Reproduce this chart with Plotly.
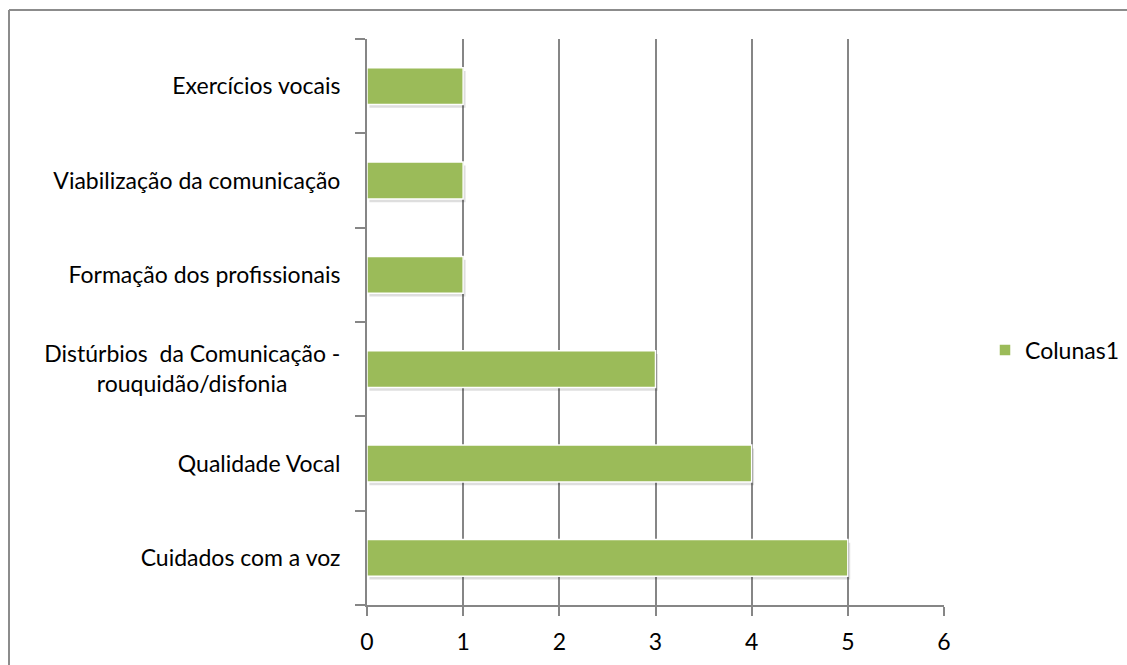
import plotly.graph_objects as go

categories = [
    "Cuidados com a voz",
    "Qualidade Vocal",
    "Distúrbios\u00a0 da Comunicação -<br>rouquidão/disfonia" + "\u00a0" * 9,
    "Formação dos profissionais",
    "Viabilização da comunicação",
    "Exercícios vocais",
]
values = [5, 4, 3, 1, 1, 1]
series_name = "Colunas1"
x_ticks = [0, 1, 2, 3, 4, 5, 6]

GREEN = "#9BBB59"
GRID = "#868686"
FONT = "Lato"

W, H = 1127, 665
L, R, T, B = 367, 1127 - 944, 39, 665 - 605
pw, ph = W - L - R, H - T - B

def px_x(p):
    return (p - L) / pw

def px_y(p):
    return (H - B - p) / ph

ypos = list(range(len(categories)))
fig = go.Figure()
# soft drop shadow
fig.add_trace(go.Bar(
    y=ypos, x=values, orientation="h", base=0.025,
    marker=dict(color="rgba(0,0,0,0.13)", line=dict(width=0)),
    width=0.39, offset=-0.195 - 0.035, showlegend=False, hoverinfo="skip",
))
fig.add_trace(go.Bar(
    y=ypos, x=values, orientation="h",
    name=series_name,
    marker=dict(color=GREEN, line=dict(color="white", width=1.5)),
    width=0.39, offset=-0.195,
    showlegend=True,
))

fig.update_layout(
    width=W, height=H,
    barmode="overlay",
    margin=dict(l=L, r=R, t=T, b=B, autoexpand=False),
    paper_bgcolor="white", plot_bgcolor="white",
    font=dict(family=FONT, size=23, color="#000000"),
    showlegend=True,
    legend=dict(x=px_x(985), y=px_y(350), xanchor="left", yanchor="middle",
                font=dict(size=23), bgcolor="rgba(0,0,0,0)"),
    xaxis=dict(range=[0, 6], tickvals=x_ticks, showgrid=True, gridcolor=GRID, gridwidth=2,
               showline=True, linecolor=GRID, linewidth=2, ticks="outside", ticklen=9,
               tickcolor=GRID, tickwidth=2, zeroline=False, ticklabelstandoff=6,
               automargin=False),
    yaxis=dict(range=[-0.5, len(categories) - 0.5], tickvals=ypos,
               ticktext=categories, showgrid=False, automargin=False,
               showline=True, linecolor=GRID, linewidth=2, ticks="", zeroline=False,
               ticklabelstandoff=20,
               minor=dict(tickvals=[i - 0.5 for i in range(len(categories) + 1)], ticks="outside",
                          ticklen=10, tickcolor=GRID, tickwidth=2, showgrid=False)),
    shapes=[
        dict(type="line", xref="paper", yref="paper", x0=px_x(9), x1=px_x(1200), y0=px_y(10), y1=px_y(10),
             line=dict(color="#8c8c8c", width=2)),
        dict(type="line", xref="paper", yref="paper", x0=px_x(9), x1=px_x(9), y0=px_y(10), y1=px_y(700),
             line=dict(color="#8c8c8c", width=2)),
    ],
)

fig.write_html("out.html")
